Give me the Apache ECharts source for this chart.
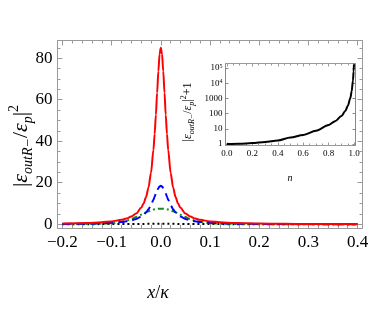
<!DOCTYPE html>
<html><head><meta charset="utf-8">
<script src="https://cdn.jsdelivr.net/npm/echarts@6/dist/echarts.min.js"></script>
<style>html,body{margin:0;padding:0;background:#fff}#c{width:374px;height:320px}</style>
</head><body><div id="c"></div>
<script>
// ---- main plot data (x / kappa) ----
const xs = [-0.2,-0.15,-0.12,-0.1,-0.08,-0.07,-0.06,-0.05,-0.04,-0.035,-0.03,-0.025,-0.02,-0.015,-0.0125,-0.01,-0.0075,-0.005,-0.0025,
  0,
  0.0025,0.005,0.0075,0.01,0.0125,0.015,0.02,0.025,0.03,0.035,0.04,0.05,0.06,0.07,0.08,0.1,0.12,0.15,0.2,0.25,0.3,0.35,0.4];
const redVals = [0.35,0.61,0.96,1.37,2.12,2.75,3.7,5.2,7.9,10.0,13.1,17.7,24.7,35.8,43.5,52.8,63.3,73.7,81.9,
  85,
  81.9,73.7,63.3,52.8,43.5,35.8,24.7,17.7,13.1,10.0,7.9,5.2,3.7,2.75,2.12,1.37,0.96,0.61,0.35,0.22,0.15,0.11,0.09];
const blueVals = [0.18,0.32,0.5,0.71,1.09,1.4,1.85,2.55,3.7,4.55,5.7,7.2,9.25,11.8,13.3,14.8,16.2,17.4,18.2,
  18.5,
  18.2,17.4,16.2,14.8,13.3,11.8,9.25,7.2,5.7,4.55,3.7,2.55,1.85,1.4,1.09,0.71,0.5,0.32,0.18,0.12,0.08,0.06,0.05];
const greenVals = [0.08,0.16,0.3,0.55,1.15,1.7,2.5,3.5,4.6,5.2,5.8,6.3,6.7,7.05,7.2,7.3,7.4,7.45,7.48,
  7.5,
  7.48,7.45,7.4,7.3,7.2,7.05,6.7,6.3,5.8,5.2,4.6,3.5,2.5,1.7,1.15,0.55,0.3,0.16,0.08,0.05,0.04,0.03,0.02];
const blackVals = [0.04,0.05,0.07,0.08,0.1,0.11,0.12,0.14,0.17,0.18,0.2,0.21,0.23,0.25,0.26,0.27,0.28,0.29,0.3,
  0.3,
  0.3,0.29,0.28,0.27,0.26,0.25,0.23,0.21,0.2,0.18,0.17,0.14,0.12,0.11,0.1,0.08,0.07,0.05,0.04,0.03,0.03,0.02,0.02];
const xTickVals = [-0.2,-0.1,0,0.1,0.2,0.3,0.4];
const yTickVals = [0,20,40,60,80];

// ---- inset data (n) ----
const insetN = [0,0.1,0.2,0.3,0.4,0.5,0.6,0.7,0.8,0.85,0.9,0.93,0.95,0.97,0.98,0.99,0.995,0.998];
const insetVals = [1.0,1.05,1.15,1.35,1.7,2.7,4,7.5,18,32,70,150,330,1100,3000,15000,60000,180000];
const insetXTickVals = [0,0.2,0.4,0.6,0.8,1.0];

const serif = '"Liberation Serif","DejaVu Serif",serif';
const frameColor = '#9a9a9a';

function minorList(a, b, step, every) {
  const out = [];
  const n0 = Math.round(a / step), n1 = Math.round(b / step);
  for (let i = n0; i <= n1; i++) if (i % every !== 0) out.push(+(i * step).toFixed(6));
  return out;
}
const xMinor = minorList(-0.2, 0.4, 0.02, 5);
const yMinor = minorList(0, 85, 5, 4);
const insetXMinor = minorList(0, 1.0, 0.05, 4);

function fmtX(v) { const s = (+v).toFixed(1); return s.replace('-', '\u2212'); }

function lineOn(color) { return {show: true, onZero: false, lineStyle: {color: color, width: 1}}; }
const noLine = {show: false, onZero: false};

function xAxesFor(grid, min, max, majors, minors, labelOpt, majLen, minLen) {
  const base = {type: 'value', gridIndex: grid, min: min, max: max, splitLine: {show: false}};
  return [
    Object.assign({}, base, {position: 'bottom', axisLine: lineOn(frameColor),
      axisTick: {show: true, inside: true, length: majLen, customValues: majors, lineStyle: {color: frameColor}},
      axisLabel: labelOpt}),
    Object.assign({}, base, {position: 'bottom', axisLine: noLine,
      axisTick: {show: true, inside: true, length: minLen, customValues: minors, lineStyle: {color: frameColor}},
      axisLabel: {show: false}}),
    Object.assign({}, base, {position: 'top', axisLine: lineOn(frameColor),
      axisTick: {show: true, inside: true, length: majLen, customValues: majors, lineStyle: {color: frameColor}},
      axisLabel: {show: false}}),
    Object.assign({}, base, {position: 'top', axisLine: noLine,
      axisTick: {show: true, inside: true, length: minLen, customValues: minors, lineStyle: {color: frameColor}},
      axisLabel: {show: false}})
  ];
}

const mainX = xAxesFor(0, -0.21, 0.41, xTickVals, xMinor,
  {show: true, customValues: xTickVals, formatter: fmtX, fontFamily: serif, fontSize: 17, color: '#000', margin: 6}, 5, 3);
const insetX = xAxesFor(1, -0.01, 1.01, insetXTickVals, insetXMinor,
  {show: true, customValues: insetXTickVals, formatter: v => (+v).toFixed(1), fontFamily: serif, fontSize: 9, color: '#000', margin: 4}, 3, 2);

const mainYBase = {type: 'value', gridIndex: 0, min: -1.8, max: 88.5, splitLine: {show: false}};
const mainY = [
  Object.assign({}, mainYBase, {position: 'left', axisLine: lineOn(frameColor),
    axisTick: {show: true, inside: true, length: 5, customValues: yTickVals, lineStyle: {color: frameColor}},
    axisLabel: {show: true, customValues: yTickVals, fontFamily: serif, fontSize: 17, color: '#000', margin: 5}}),
  Object.assign({}, mainYBase, {position: 'left', axisLine: noLine,
    axisTick: {show: true, inside: true, length: 3, customValues: yMinor, lineStyle: {color: frameColor}},
    axisLabel: {show: false}}),
  Object.assign({}, mainYBase, {position: 'right', axisLine: lineOn(frameColor),
    axisTick: {show: true, inside: true, length: 5, customValues: yTickVals, lineStyle: {color: frameColor}},
    axisLabel: {show: false}}),
  Object.assign({}, mainYBase, {position: 'right', axisLine: noLine,
    axisTick: {show: true, inside: true, length: 3, customValues: yMinor, lineStyle: {color: frameColor}},
    axisLabel: {show: false}})
];

function fmtLog(v) {
  const e = Math.round(Math.log10(v));
  if (e <= 3) return String(Math.pow(10, e));
  return '10{s|' + e + '}';
}
const insetYBase = {type: 'log', logBase: 10, gridIndex: 1, min: 0.8, max: 200000, splitLine: {show: false}};
const insetY = [
  Object.assign({}, insetYBase, {position: 'left', axisLine: lineOn('#888'),
    axisTick: {show: true, inside: true, length: 3, lineStyle: {color: '#888'}},
    axisLabel: {show: true, showMinLabel: false, showMaxLabel: false, formatter: fmtLog, fontFamily: serif, fontSize: 9, color: '#000', margin: 3,
      rich: {s: {fontSize: 6, verticalAlign: 'top', lineHeight: 6, fontFamily: serif}}}}),
  Object.assign({}, insetYBase, {position: 'right', axisLine: lineOn('#888'),
    axisTick: {show: true, inside: true, length: 3, lineStyle: {color: '#888'}},
    axisLabel: {show: false}})
];

function pairs(a, b) { return a.map((x, i) => [x, b[i]]); }

const lineBase = {type: 'line', xAxisIndex: 0, yAxisIndex: 0, showSymbol: false, symbol: 'none', smooth: 0.3, smoothMonotone: 'x', animation: false};

const option = {
  animation: false,
  backgroundColor: '#fff',
  grid: [
    {left: 57.5, right: 11.5, top: 40.5, bottom: 92},
    {left: 225.5, right: 18.5, top: 63.5, bottom: 174.5, show: true, backgroundColor: '#fff', borderWidth: 0}
  ],
  xAxis: mainX.concat(insetX),
  yAxis: mainY.concat(insetY),
  series: [
    Object.assign({}, lineBase, {name: 'black', data: pairs(xs, blackVals), lineStyle: {color: '#000', width: 2, type: [2, 3]}}),
    Object.assign({}, lineBase, {name: 'green', data: pairs(xs, greenVals), lineStyle: {color: '#1a8c1a', width: 2, type: [6, 3, 2, 3]}}),
    Object.assign({}, lineBase, {name: 'blue', data: pairs(xs, blueVals), lineStyle: {color: '#0000ff', width: 2, type: [9, 5]}}),
    Object.assign({}, lineBase, {name: 'red', data: pairs(xs, redVals), lineStyle: {color: '#ff0000', width: 2}}),
    {type: 'line', xAxisIndex: 4, yAxisIndex: 4, showSymbol: false, symbol: 'none', smooth: 0.3, smoothMonotone: 'x',
      data: pairs(insetN, insetVals), lineStyle: {color: '#000', width: 2}}
  ],
  graphic: [
    {type: 'text', x: 21, y: 146, rotation: Math.PI / 2,
      style: {text: '{n||}{i|ε}{s|outR−}{n|/}{i|ε}{s|p}{n||}{p|2}', align: 'center', verticalAlign: 'middle', fill: '#000',
        font: '22px ' + serif,
        rich: {
          n: {fontSize: 22, fontFamily: serif, lineHeight: 28},
          i: {fontSize: 22, fontStyle: 'italic', fontFamily: serif, lineHeight: 28},
          s: {fontSize: 14, fontStyle: 'italic', fontFamily: serif, verticalAlign: 'bottom', lineHeight: 14},
          p: {fontSize: 14, fontFamily: serif, verticalAlign: 'top', lineHeight: 14}
        }}},
    {type: 'text', x: 158, y: 293,
      style: {text: '{i|x}{n|/}{i|κ}', align: 'center', verticalAlign: 'middle', fill: '#000', font: '18px ' + serif,
        rich: {n: {fontSize: 18, fontFamily: serif}, i: {fontSize: 18, fontStyle: 'italic', fontFamily: serif}}}},
    {type: 'text', x: 188, y: 112, rotation: Math.PI / 2,
      style: {text: '{n||}{i|ε}{s|outR−}{n|/}{i|ε}{s|p}{n||}{p|2}{n|+1}', align: 'center', verticalAlign: 'middle', fill: '#000',
        font: '12px ' + serif,
        rich: {
          n: {fontSize: 12, fontFamily: serif, lineHeight: 16},
          i: {fontSize: 12, fontStyle: 'italic', fontFamily: serif, lineHeight: 16},
          s: {fontSize: 8, fontStyle: 'italic', fontFamily: serif, verticalAlign: 'bottom', lineHeight: 8},
          p: {fontSize: 8, fontFamily: serif, verticalAlign: 'top', lineHeight: 8}
        }}},
    {type: 'text', x: 290, y: 178,
      style: {text: 'n', align: 'center', verticalAlign: 'middle', fill: '#000', font: 'italic 10px ' + serif}}
  ]
};
const chart = echarts.init(document.getElementById('c'), null, {renderer: 'canvas'});
chart.setOption(option);
</script>
</body></html>
